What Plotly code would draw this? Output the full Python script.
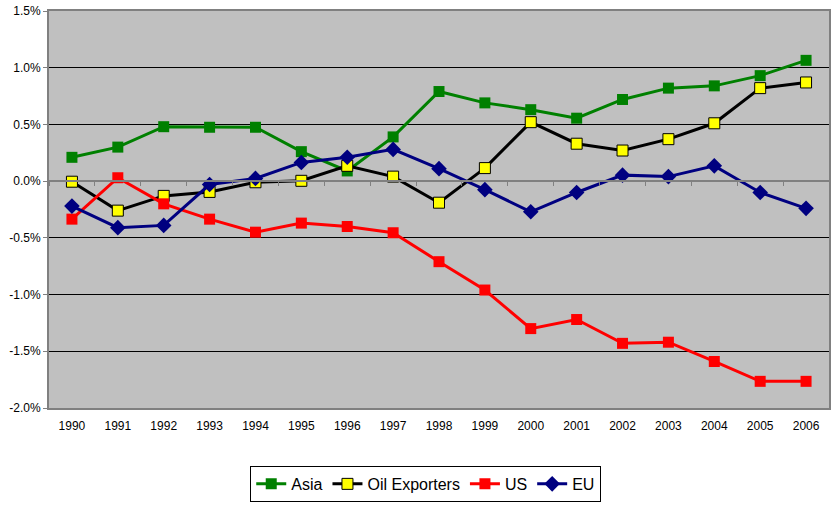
import plotly.graph_objects as go

years = [str(y) for y in range(1990, 2007)]
asia = [0.21, 0.30, 0.48, 0.475, 0.475, 0.26, 0.09, 0.39, 0.79, 0.69, 0.63, 0.555, 0.72, 0.82, 0.84, 0.93, 1.065]
oil = [-0.005, -0.26, -0.13, -0.095, -0.01, 0.003, 0.135, 0.04, -0.19, 0.115, 0.52, 0.33, 0.27, 0.37, 0.51, 0.82, 0.87]
us = [-0.335, 0.03, -0.20, -0.335, -0.45, -0.37, -0.40, -0.455, -0.71, -0.96, -1.30, -1.22, -1.43, -1.42, -1.59, -1.765, -1.765]
eu = [-0.22, -0.41, -0.39, -0.03, 0.024, 0.165, 0.21, 0.28, 0.11, -0.075, -0.27, -0.10, 0.053, 0.04, 0.135, -0.10, -0.24]
y_ticks = [-2.0, -1.5, -1.0, -0.5, 0.0, 0.5, 1.0, 1.5]

fig = go.Figure()
fig.add_trace(go.Scatter(x=years, y=asia, name="Asia", mode="lines+markers",
                         line=dict(color="#008000", width=3),
                         marker=dict(symbol="square", size=11, color="#008000")))
fig.add_trace(go.Scatter(x=years, y=oil, name="Oil Exporters", mode="lines+markers",
                         line=dict(color="#000000", width=3),
                         marker=dict(symbol="square", size=11, color="#FFFF00",
                                     line=dict(color="#000000", width=1))))
fig.add_trace(go.Scatter(x=years, y=us, name="US", mode="lines+markers",
                         line=dict(color="#FF0000", width=3),
                         marker=dict(symbol="square", size=11, color="#FF0000")))
fig.add_trace(go.Scatter(x=years, y=eu, name="EU", mode="lines+markers",
                         line=dict(color="#000080", width=3),
                         marker=dict(symbol="diamond", size=12, color="#000080")))
# invisible trace to carry the zero-crossing category axis
fig.add_trace(go.Scatter(x=years, y=[None] * len(years), xaxis="x2", showlegend=False,
                         hoverinfo="skip", mode="lines"))

zero_pos = (0 - y_ticks[0]) / (y_ticks[-1] - y_ticks[0])

fig.update_layout(
    width=833, height=508,
    margin=dict(l=49, r=2, t=11, b=100),
    paper_bgcolor="white", plot_bgcolor="#C0C0C0",
    font=dict(family="Liberation Sans, Arial, sans-serif", size=12, color="black"),
    xaxis=dict(type="category", range=[-0.5, 16.5], showgrid=False, ticks="",
               showline=True, linecolor="#808080", linewidth=2, mirror=True,
               tickfont=dict(size=12), ticklabelstandoff=6),
    xaxis2=dict(type="category", range=[-0.5, 16.5], overlaying="x", anchor="free",
                position=zero_pos, side="bottom", showticklabels=False,
                ticks="outside", ticklen=4, tickcolor="#808080", tickwidth=1,
                tickson="boundaries", showline=True, linecolor="#808080", linewidth=2,
                showgrid=False, zeroline=False),
    yaxis=dict(range=[y_ticks[0], y_ticks[-1]], tickvals=y_ticks,
               ticktext=[f"{v:.1f}%" for v in y_ticks],
               showgrid=True, gridcolor="black", gridwidth=1, zeroline=False,
               showline=True, linecolor="#808080", linewidth=2, mirror=True,
               ticks="outside", ticklen=4, tickcolor="#808080", tickfont=dict(size=12)),
    legend=dict(orientation="h", x=0.483, xanchor="center", y=-0.146, yanchor="top",
                bordercolor="black", borderwidth=1, font=dict(size=16),
                itemwidth=30, tracegroupgap=0),
    showlegend=True,
)

fig.write_html("out.html", config={"displayModeBar": False},
               post_script="document.body.style.margin='0';")
